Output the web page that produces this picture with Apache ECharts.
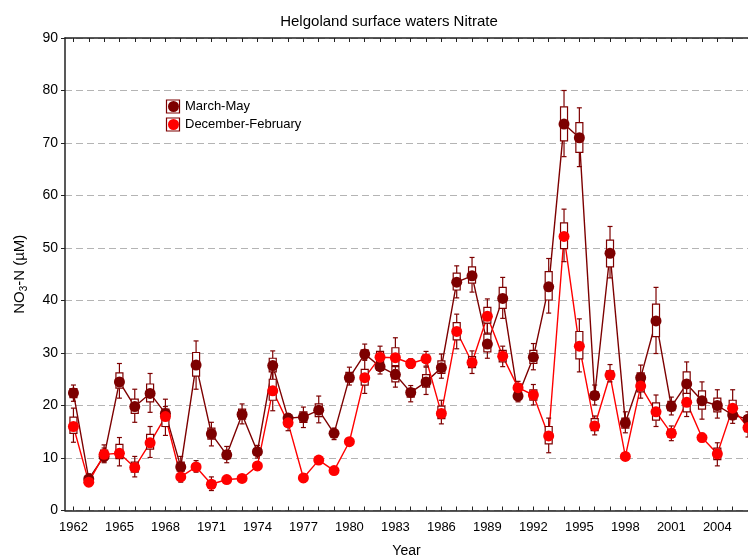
<!DOCTYPE html>
<html><head><meta charset="utf-8">
<script src="https://cdn.jsdelivr.net/npm/echarts@6/dist/echarts.min.js"></script>
<style>html,body{margin:0;padding:0;background:#fff}#c{width:748px;height:560px}</style>
</head><body><div id="c"></div>
<script>
const years = [1962,1963,1964,1965,1966,1967,1968,1969,1970,1971,1972,1973,1974,1975,1976,1977,1978,1979,1980,1981,1982,1983,1984,1985,1986,1987,1988,1989,1990,1991,1992,1993,1994,1995,1996,1997,1998,1999,2000,2001,2002,2003,2004,2005,2006];
const tickLabels = [1962,1965,1968,1971,1974,1977,1980,1983,1986,1989,1992,1995,1998,2001,2004];

// March-May
const mmMean  = [22.4,6.0,10.3,24.5,19.8,22.3,18.5,8.3,27.7,14.6,10.6,18.3,11.2,27.6,17.6,17.8,19.1,14.7,25.3,29.8,27.4,25.9,22.5,24.5,27.2,43.5,44.7,31.7,40.4,21.8,29.2,42.6,73.6,71.0,21.9,49.0,16.7,25.3,36.1,19.8,24.1,20.9,20.0,18.2,17.4];
const mmBoxLo = [21.5,5.5,9.8,23.3,18.5,20.7,17.3,7.5,25.6,13.6,9.9,17.4,10.6,26.4,17.1,16.8,17.9,14.2,24.5,29.2,26.7,24.5,21.6,23.5,26.1,42.0,43.3,30.2,38.5,21.2,28.0,40.1,70.4,68.2,21.2,46.4,15.7,23.7,33.1,19.0,22.0,19.3,18.8,17.4,16.8];
const mmBoxHi = [23.2,6.5,11.2,26.2,21.2,24.1,19.3,9.2,30.1,15.7,11.4,19.3,11.8,29.0,18.0,18.8,20.3,15.2,26.3,30.6,28.2,27.4,23.2,25.9,28.5,45.2,46.4,33.6,42.5,22.4,30.5,45.5,76.9,73.9,22.6,51.5,17.6,26.2,39.3,20.8,26.4,22.8,21.4,19.0,18.0];
const mmWhLo  = [20.8,5.0,9.3,21.4,16.8,18.7,16.0,6.8,23.1,12.3,9.1,16.5,10.0,24.8,16.6,15.8,16.7,13.5,23.9,28.8,26.0,23.5,20.7,22.1,25.2,40.5,41.6,29.0,36.6,20.7,26.8,37.6,67.4,65.5,20.1,44.3,14.8,23.0,29.9,18.2,19.1,17.4,17.6,16.6,16.0];
const mmWhHi  = [23.9,7.0,11.9,28.0,23.1,26.1,21.2,10.3,32.3,16.8,12.2,20.3,12.4,30.4,18.4,19.7,21.8,15.7,27.3,31.7,28.8,28.6,23.8,27.3,29.8,46.6,48.2,35.7,44.4,22.8,31.8,48.0,80.0,76.7,23.9,54.1,18.8,27.7,42.5,21.6,28.3,24.5,23.0,19.8,18.8];

// December-February
const dfMean  = [16.0,5.4,10.7,10.9,8.2,12.9,17.9,6.4,8.3,5.0,5.9,6.1,8.5,22.8,16.7,6.2,9.6,7.6,13.1,25.3,29.2,29.1,28.0,28.9,18.5,34.1,28.2,37.0,29.4,23.4,22.0,14.2,52.2,31.3,16.1,25.8,10.3,23.7,18.8,14.7,20.6,13.9,10.8,19.5,15.8];
const dfBoxLo = [14.7,5.0,9.9,9.9,7.3,11.7,16.0,6.0,7.8,4.4,5.6,5.8,8.1,21.0,16.0,5.8,9.3,7.3,12.8,23.9,28.2,27.6,27.5,28.2,17.5,32.5,27.2,35.7,28.3,22.6,21.0,12.7,49.9,28.9,15.2,25.0,10.0,22.6,17.2,14.0,18.8,13.5,9.7,18.3,15.0];
const dfBoxHi = [17.8,5.9,11.5,12.6,9.2,14.5,18.8,6.9,8.9,5.6,6.2,6.4,8.9,25.0,17.3,6.6,9.9,7.9,13.4,26.9,30.3,31.0,28.5,29.6,19.9,35.8,29.3,38.7,30.5,24.1,23.0,16.0,54.8,34.1,17.5,26.6,10.6,24.6,20.5,15.4,22.3,14.3,11.9,21.0,16.8];
const dfWhLo  = [13.0,4.6,9.1,8.5,6.4,10.1,14.3,5.4,7.3,3.8,5.3,5.5,7.7,19.0,15.2,5.4,9.0,7.0,12.5,22.3,27.1,26.8,27.1,27.5,16.5,30.8,26.1,33.8,27.4,21.9,20.1,11.0,47.4,26.4,14.4,24.5,9.8,21.4,16.0,13.3,17.9,13.1,8.5,17.3,14.0];
const dfWhHi  = [19.5,6.3,12.5,13.9,10.3,16.0,19.8,7.4,9.5,6.4,6.5,6.7,9.3,26.8,18.0,7.0,10.2,8.2,13.7,28.6,31.3,32.9,28.9,30.3,21.0,37.4,30.4,40.3,31.3,24.6,24.0,17.6,57.4,36.5,18.0,27.8,10.8,25.2,22.0,16.1,23.5,14.7,12.9,23.0,17.5];

const MM_COLOR = '#7d0000';
const DF_COLOR = '#ff0000';
const BOX_COLOR = '#7d0000';
const FONT = 'Liberation Sans, Arial, sans-serif';

function pairs(mean){ return years.map((y,i)=>[y, mean[i]]); }
function boxes(lo,hi,wl,wh){ return years.map((y,i)=>[y, lo[i], hi[i], wl[i], wh[i]]); }

function renderBox(params, api){
  const x = api.value(0);
  const bl = api.coord([x, api.value(1)]);
  const bh = api.coord([x, api.value(2)]);
  const wl = api.coord([x, api.value(3)]);
  const wh = api.coord([x, api.value(4)]);
  const hw = 3.5, cw = 2.5;
  const st = {stroke: BOX_COLOR, lineWidth: 1.2, fill: null};
  return {type:'group', children:[
    {type:'line', shape:{x1:wl[0],y1:wl[1],x2:bl[0],y2:bl[1]}, style:st},
    {type:'line', shape:{x1:bh[0],y1:bh[1],x2:wh[0],y2:wh[1]}, style:st},
    {type:'line', shape:{x1:wl[0]-cw,y1:wl[1],x2:wl[0]+cw,y2:wl[1]}, style:st},
    {type:'line', shape:{x1:wh[0]-cw,y1:wh[1],x2:wh[0]+cw,y2:wh[1]}, style:st},
    {type:'rect', shape:{x:bh[0]-hw, y:bh[1], width:2*hw, height:bl[1]-bh[1]}, style:{stroke:BOX_COLOR, lineWidth:1.2, fill:'#fff'}}
  ]};
}

const chart = echarts.init(document.getElementById('c'), null, {renderer:'canvas'});
const xCommon = {type:'value', min:1961.45, max:2006, splitLine:{show:false}};
chart.setOption({
  animation:false,
  backgroundColor:'#fff',
  textStyle:{fontFamily:FONT},
  title:{text:'Helgoland surface waters Nitrate', left:384, top:9, textAlign:'center',
    textStyle:{fontFamily:FONT, fontSize:15, fontWeight:'normal', color:'#000'}},
  legend:{left:168, top:100, orient:'vertical', itemWidth:11, itemHeight:11, itemGap:5,
    icon:'circle', padding:0, data:['March-May','December-February'],
    textStyle:{fontFamily:FONT, fontSize:13, color:'#000', padding:[0,0,0,1]}},
  graphic:[
    {type:'rect', shape:{x:166.5, y:100, width:13, height:13}, style:{stroke:BOX_COLOR, lineWidth:1.2, fill:null}, z:100},
    {type:'rect', shape:{x:166.5, y:118, width:13, height:13}, style:{stroke:BOX_COLOR, lineWidth:1.2, fill:null}, z:100}
  ],
  grid:{left:65, top:38, width:683, height:472.5, containLabel:false, outerBoundsMode:'none'},
  xAxis:[
    Object.assign({}, xCommon, {position:'bottom', name:'Year', nameLocation:'middle', nameGap:34,
      nameTextStyle:{fontFamily:FONT, fontSize:14, color:'#000'},
      axisLine:{show:true, lineStyle:{color:'#222', width:1.5}},
      axisTick:{show:true, inside:true, length:4, customValues:years, lineStyle:{color:'#222'}},
      axisLabel:{customValues:tickLabels, margin:10, fontFamily:FONT, fontSize:13, color:'#000', formatter:v=>String(v)}}),
    Object.assign({}, xCommon, {position:'top',
      axisLine:{show:true, lineStyle:{color:'#222', width:1.5}},
      axisTick:{show:true, inside:true, length:4, customValues:years, lineStyle:{color:'#222'}},
      axisLabel:{show:false}})
  ],
  yAxis:{type:'value', min:0, max:90, interval:10,
    name:'{n|NO}{s|3}{n|-N (µM)}', nameLocation:'middle', nameGap:36,
    nameTextStyle:{fontFamily:FONT, color:'#000', rich:{
      n:{fontFamily:FONT, fontSize:15, color:'#000', lineHeight:18},
      s:{fontFamily:FONT, fontSize:10, color:'#000', lineHeight:18, verticalAlign:'bottom', padding:[6,0,0,0]}}},
    axisLine:{show:true, lineStyle:{color:'#222', width:1.5}},
    axisTick:{show:true, inside:false, length:4, lineStyle:{color:'#222'}},
    axisLabel:{margin:7, fontFamily:FONT, fontSize:14, color:'#000'},
    splitLine:{show:true, lineStyle:{color:'#b4b4b4', type:[7,4], width:1}}},
  series:[
    {type:'line', data:pairs(mmMean), showSymbol:false, symbol:'none', lineStyle:{color:MM_COLOR, width:1.4}, z:1, silent:true},
    {type:'line', data:pairs(dfMean), showSymbol:false, symbol:'none', lineStyle:{color:DF_COLOR, width:1.4}, z:1, silent:true},
    {type:'custom', renderItem:renderBox, data:boxes(mmBoxLo,mmBoxHi,mmWhLo,mmWhHi), z:2, silent:true},
    {type:'custom', renderItem:renderBox, data:boxes(dfBoxLo,dfBoxHi,dfWhLo,dfWhHi), z:2, silent:true},
    {name:'March-May', type:'scatter', data:pairs(mmMean), symbol:'circle', symbolSize:11, itemStyle:{color:MM_COLOR, opacity:1}, z:3},
    {name:'December-February', type:'scatter', data:pairs(dfMean), symbol:'circle', symbolSize:11, itemStyle:{color:DF_COLOR, opacity:1}, z:4}
  ]
});
</script></body></html>
